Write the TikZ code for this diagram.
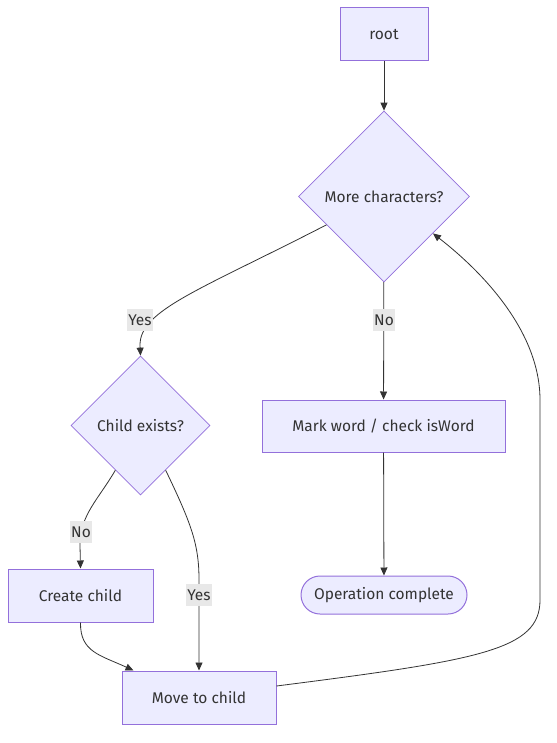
\documentclass[tikz,border=0pt]{standalone}
\usepackage{fontspec}
\setmainfont{Fira Sans}
\usetikzlibrary{shapes.geometric,arrows.meta,calc}
\definecolor{nodefill}{HTML}{ECECFF}
\definecolor{nodeline}{HTML}{9370DB}
\definecolor{edgeline}{HTML}{333333}
\definecolor{labelbg}{HTML}{E8E8E8}
\definecolor{txt}{HTML}{333333}
\tikzset{
  box/.style={draw=nodeline, fill=nodefill, line width=1pt, inner sep=0pt, text=txt, font=\fontsize{15.5}{18}\selectfont},
  dia/.style={box, diamond, aspect=1, line width=0.7pt},
  conn/.style={draw=edgeline, line width=0.8pt, -{Triangle[length=8pt,width=7pt]}},
  elabel/.style={fill=labelbg, inner xsep=1pt, inner ysep=0pt, minimum height=22pt, text=txt, font=\fontsize{15.5}{18}\selectfont}
}
\begin{document}
\begin{tikzpicture}[x=1pt,y=-1pt]
\useasboundingbox (0,0) rectangle (556,743);
\node[box, minimum width=88pt, minimum height=53pt] (root) at (384,34.5) {root};
\node[dia, minimum width=171pt, minimum height=171pt] (more) at (384,196.5) {More characters?};
\node[dia, minimum width=139pt, minimum height=139pt] (child) at (140.5,425.5) {Child exists?};
\node[box, minimum width=243pt, minimum height=52pt] (mark) at (383.5,426) {Mark word / check isWord};
\node[box, rounded corners=19pt, minimum width=166pt, minimum height=38pt] (done) at (384,595) {Operation complete};
\node[box, minimum width=145pt, minimum height=53pt] (create) at (80.5,595.5) {Create child};
\node[box, minimum width=154pt, minimum height=53pt] (move) at (199,697.5) {Move to child};

\coordinate (mYes) at ($(more.west)!0.33!(more.south)$);
\coordinate (cNo) at ($(child.west)!0.64!(child.south)$);
\coordinate (cYes) at ($(child.south)!0.36!(child.east)$);
\coordinate (mBack) at ($(more.south)!0.57!(more.east)$);
\coordinate (mvIn) at ([xshift=12pt]move.north west);
\coordinate (mvOut) at ([yshift=11.5pt]move.east);
\coordinate (y1) at (140,345);
\coordinate (n1) at (80,545);
\coordinate (s1) at (199,580);
\coordinate (r1) at (540,600);
\coordinate (r2) at (540,400);

\draw[conn] (root) -- (more);
\draw[conn] (mYes) .. controls (200,290) and (140,310) .. (y1) -- (child.north)
  node[elabel] at (140,320) {Yes};
\draw[conn] (more) -- (mark) node[elabel] at (384,320) {No};
\draw[conn] (mark) -- (done);
\draw[conn] (cNo) .. controls (98,500) and (80,515) .. (n1) -- (create.north)
  node[elabel] at (81,532) {No};
\draw[conn] (cYes) .. controls (192,525) and (199,545) .. (s1) -- (move.north)
  node[elabel] at (199,595) {Yes};
\draw[conn] (create.south) .. controls (80,652) and (100,655) .. (mvIn);
\draw[conn] (mvOut) .. controls (480,660) and (540,650) .. (r1) -- (r2)
  .. controls (540,330) and (480,270) .. (mBack);
\end{tikzpicture}
\end{document}
